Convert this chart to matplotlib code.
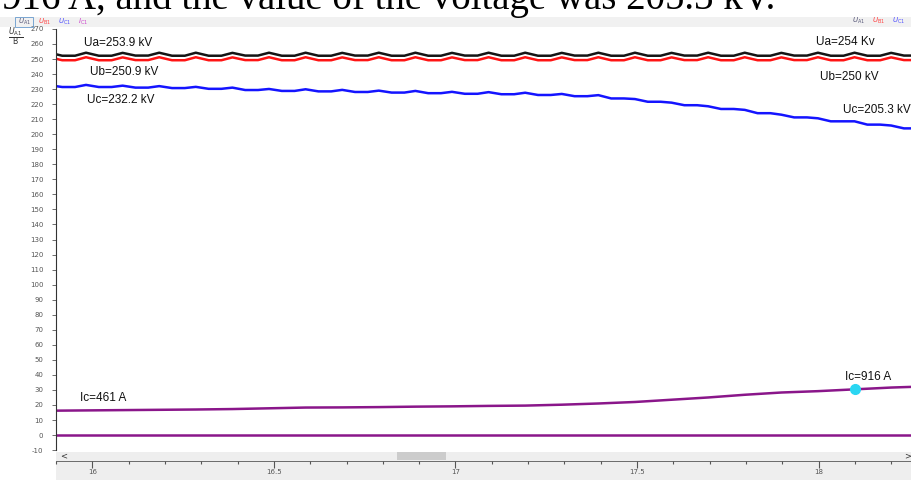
import matplotlib.pyplot as plt
from matplotlib.patches import Rectangle

plt.rcParams['axes.unicode_minus'] = False

# peak times of the ripple (one every 0.1 s)
peak_t = [15.9, 16.0, 16.1, 16.2, 16.3, 16.4, 16.5, 16.6, 16.7, 16.8, 16.9, 17.0, 17.1,
          17.2, 17.3, 17.4, 17.5, 17.6, 17.7, 17.8, 17.9, 18.0, 18.1, 18.2, 18.3]

ua_peak = [254.2, 254.2, 254.1, 254.2, 254.2, 254.1, 254.2, 254.2, 254.1, 254.2, 254.2, 254.1, 254.2,
           254.2, 254.1, 254.2, 254.2, 254.1, 254.2, 254.2, 254.1, 254.2, 254.2, 254.1, 254.2]
ua_low = [252.2, 252.2, 252.3, 252.2, 252.2, 252.3, 252.2, 252.2, 252.3, 252.2, 252.2, 252.3, 252.2,
          252.2, 252.3, 252.2, 252.2, 252.3, 252.2, 252.2, 252.3, 252.2, 252.2, 252.3, 252.2]

ub_peak = [251.2, 251.2, 251.1, 251.2, 251.2, 251.1, 251.2, 251.2, 251.1, 251.2, 251.2, 251.1, 251.2,
           251.2, 251.1, 251.2, 251.2, 251.1, 251.2, 251.2, 251.1, 251.2, 251.2, 251.1, 251.2]
ub_low = [249.2, 249.2, 249.3, 249.2, 249.2, 249.3, 249.2, 249.2, 249.3, 249.2, 249.2, 249.3, 249.2,
          249.2, 249.3, 249.2, 249.2, 249.3, 249.2, 249.2, 249.3, 249.2, 249.2, 249.3, 249.2]

uc_peak = [232.6, 232.8, 232.3, 232.0, 231.5, 231.0, 230.1, 229.9, 229.5, 229.0, 228.8, 228.2, 228.0,
           227.6, 226.8, 226.0, 223.4, 221.0, 218.6, 216.2, 213.0, 210.6, 208.6, 205.8, 203.6]
uc_low = [231.4, 231.4, 231.0, 230.7, 230.2, 229.4, 228.8, 228.5, 228.1, 227.7, 227.3, 226.9, 226.6,
          226.1, 225.3, 223.8, 221.6, 219.3, 216.8, 214.0, 211.2, 208.6, 206.4, 203.9, 202.8]

ic_t = peak_t
ic_val = [16.2, 16.4, 16.6, 16.8, 17.0, 17.3, 17.8, 18.3, 18.4, 18.6, 18.9, 19.1, 19.4,
          19.6, 20.2, 21.0, 22.0, 23.5, 25.0, 26.8, 28.3, 29.2, 30.4, 31.6, 32.4]
ic_zero = [0.0] * len(ic_t)

marker_t, marker_v = 18.1, 30.4

W, H = 912, 480


def ripple(peaks, lows):
    # sharp peak, then flat valley until the next peak
    t, v = [], []
    for p, hi, lo in zip(peak_t, peaks, lows):
        t += [p, p + 0.035, p + 0.07]
        v += [hi, lo, lo]
    return t, v


def fx(px):
    return px / W


def fy(py):
    return 1 - py / H


fig = plt.figure(figsize=(W / 100, H / 100), dpi=100, facecolor='white')

# cropped caption from the page above the screenshot
fig.text(fx(775), fy(9), "916 A, and the value of the voltage was 205.3 kV.",
         ha='right', va='baseline', fontsize=28, family='Liberation Serif', color='black')

# toolbar strip and bottom strip
fig.patches.append(Rectangle((0, fy(27)), 1, (27 - 17) / H, transform=fig.transFigure,
                             facecolor='#f1f1f1', edgecolor='none', zorder=-2))
fig.patches.append(Rectangle((fx(56), 0), 1, (480 - 452) / H, transform=fig.transFigure,
                             facecolor='#eeeeee', edgecolor='none', zorder=-2))

ax = fig.add_axes([fx(56), fy(452), 1 - fx(56), (452 - 27) / H])
ax.set_facecolor('white')
ax.set_xlim(15.918, 18.257)
ax.set_ylim(-11.25, 271.3)

t, v = ripple(ua_peak, ua_low)
ax.plot(t, v, color='#151515', lw=1.8)
t, v = ripple(ub_peak, ub_low)
ax.plot(t, v, color='#ff1414', lw=1.8)
t, v = ripple(uc_peak, uc_low)
ax.plot(t, v, color='#1414ff', lw=1.8)
ax.plot(ic_t, ic_val, color='#8a168a', lw=1.8)
ax.plot(ic_t, ic_zero, color='#8a168a', lw=1.8)
ax.plot([marker_t], [marker_v], 'o', color='#2ad6f2', ms=7, zorder=5)

lab = dict(fontsize=8.5, family='Liberation Sans', color='#111111', va='center', ha='left')
ax.text(15.995, 260.7, "Ua=253.9 kV", **lab)
ax.text(16.011, 241.4, "Ub=250.9 kV", **lab)
ax.text(16.003, 222.8, "Uc=232.2 kV", **lab)
ax.text(17.995, 261.4, "Ua=254 Kv", **lab)
ax.text(18.005, 238.1, "Ub=250 kV", **lab)
ax.text(18.068, 216.1, "Uc=205.3 kV", **lab)
ax.text(15.984, 24.7, "Ic=461 A", **lab)
ax.text(18.074, 38.6, "Ic=916 A", **lab)

ax.set_yticks(range(-10, 271, 10))
ax.set_xticks([])
ax.tick_params(axis='y', labelsize=5, colors='#555555', length=3, width=0.6, pad=6)
for s in ['top', 'right', 'bottom']:
    ax.spines[s].set_visible(False)
ax.spines['left'].set_color('#333333')
ax.spines['left'].set_linewidth(0.8)
ax.spines['left'].set_bounds(-10, 270)

# x axis lives in the strip under the plot
ax2 = fig.add_axes([fx(56), fy(461), 1 - fx(56), 9 / H])
ax2.set_facecolor('#eeeeee')
ax2.set_xlim(ax.get_xlim())
ax2.set_yticks([])
ax2.set_xticks([16, 16.5, 17, 17.5, 18])
ax2.set_xticklabels(['16', '16.5', '17', '17.5', '18'])
ax2.set_xticks([15.9 + 0.1 * i for i in range(24)], minor=True)
ax2.tick_params(axis='x', which='major', labelsize=5, colors='#555555', length=5, width=0.8, pad=1)
ax2.tick_params(axis='x', which='minor', length=2.5, width=0.8, color='#555555')
for s in ['top', 'right', 'left']:
    ax2.spines[s].set_visible(False)
ax2.spines['bottom'].set_color('#555555')
ax2.spines['bottom'].set_linewidth(0.6)
fig.patches.append(Rectangle((fx(397), fy(460)), 49 / W, 8 / H, transform=fig.transFigure,
                             facecolor='#cccccc', edgecolor='none', zorder=3))
fig.text(fx(60), fy(456), "<", fontsize=6, color='#333333', va='center')
fig.text(fx(904), fy(456), ">", fontsize=6, color='#333333', va='center')

# channel legend on the toolbar
leg = [(r'$U_{\rm A1}$', '#555577', 18), (r'$U_{\rm B1}$', '#ff4040', 38),
       (r'$U_{\rm C1}$', '#5050ff', 58), (r'$I_{\rm C1}$', '#cc44cc', 78)]
for txt, c, px in leg:
    fig.text(fx(px), fy(22), txt, fontsize=5, color=c, va='center')
fig.patches.append(Rectangle((fx(15), fy(27)), 18 / W, 10 / H, transform=fig.transFigure,
                             facecolor='none', edgecolor='#6699cc', lw=0.6, zorder=3))
for txt, c, px in leg:
    fig.text(fx(px + 834), fy(21), txt, fontsize=5, color=c, va='center')

fig.text(fx(16), fy(37), r'$\frac{U_{\rm A1}}{\rm B}$', fontsize=8, color='#333333',
         ha='center', va='center')

fig.savefig('out.png', dpi=100)
